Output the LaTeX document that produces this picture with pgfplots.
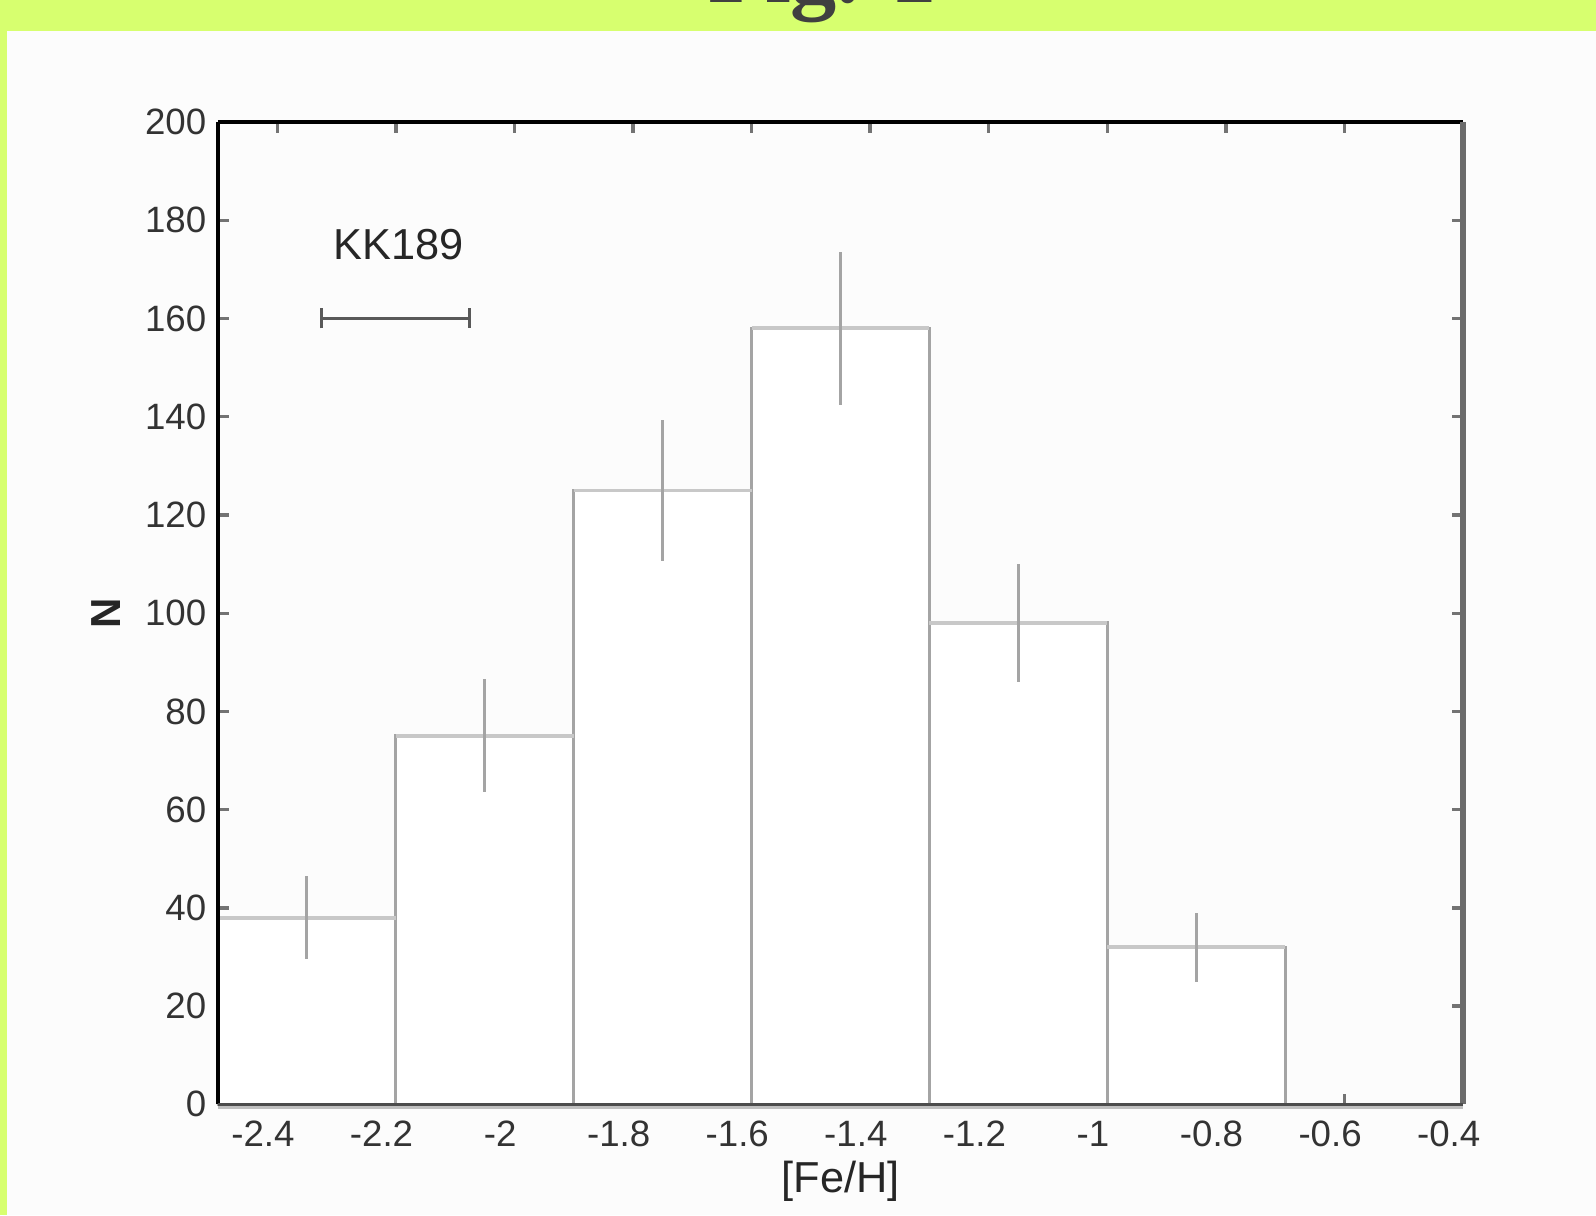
\documentclass[border=0pt]{standalone}
\usepackage{pgfplots}
\pgfplotsset{compat=1.18}
\usepackage{fontspec}
\setmainfont{Liberation Sans}
\newfontfamily\serifbold{Liberation Serif}
\definecolor{bggreen}{HTML}{D7FF6F}
\definecolor{bargray}{HTML}{A4A4A4}
\definecolor{toplight}{HTML}{C8C8C8}
\begin{document}
\begin{tikzpicture}
\useasboundingbox (0,0) rectangle (478.8pt,364.5pt);
\clip (0,0) rectangle (478.8pt,364.5pt);
\fill[white!99!black] (0,0) rectangle (478.8pt,364.5pt);
\fill[bggreen] (0,355.2pt) rectangle (478.8pt,364.5pt);
\fill[bggreen] (0,0) rectangle (2.1pt,364.5pt);
\node[anchor=base west, inner sep=0pt, font=\serifbold\bfseries\fontsize{27.7}{30}\selectfont, text=black!75] at (212.4pt,363.6pt) {Fig. 1};
\begin{axis}[
  at={(65.4pt,33.2pt)}, anchor=south west,
  scale only axis, width=373.5pt, height=294.7pt,
  xmin=-2.5, xmax=-0.4, ymin=0, ymax=200,
  xtick={-2.4,-2.2,-2.0,-1.8,-1.6,-1.4,-1.2,-1.0,-0.8,-0.6,-0.4},
  xticklabels={-2.4,-2.2,-2,-1.8,-1.6,-1.4,-1.2,-1,-0.8,-0.6,-0.4},
  ytick={0,20,40,60,80,100,120,140,160,180,200},
  tick align=inside, major tick length=3.2pt,
  tick style={line width=1pt, color=black!55},
  axis line style={draw=none},
  /pgf/number format/assume math mode=true,
  ticklabel style={font=\fontsize{11}{13}\selectfont, text=black!80},
  xticklabel style={xshift=-4.3pt, yshift=-1.5pt},
  xlabel={[Fe/H]}, ylabel={N},
  xlabel style={font=\fontsize{13}{15}\selectfont, text=black!85, at={(axis description cs:0.5,-0.078)}, anchor=center},
  ylabel style={font=\bfseries\fontsize{12.6}{15}\selectfont, text=black!85, at={(axis description cs:-0.09,0.5)}, anchor=center},
  clip=false,
]
\addplot[ybar interval, fill=white, draw=bargray, line width=0.9pt] coordinates {(-2.5,38) (-2.2,75) (-1.9,125) (-1.6,158) (-1.3,98) (-1.0,32) (-0.7,32)};
\addplot[toplight, line width=1.1pt, no markers] coordinates {(-2.5,38) (-2.2,38)};
\addplot[toplight, line width=1.1pt, no markers] coordinates {(-2.2,75) (-1.9,75)};
\addplot[toplight, line width=1.1pt, no markers] coordinates {(-1.9,125) (-1.6,125)};
\addplot[toplight, line width=1.1pt, no markers] coordinates {(-1.6,158) (-1.3,158)};
\addplot[toplight, line width=1.1pt, no markers] coordinates {(-1.3,98) (-1.0,98)};
\addplot[toplight, line width=1.1pt, no markers] coordinates {(-1.0,32) (-0.7,32)};
\addplot[draw=none, no markers, error bars/.cd, y dir=both, y explicit, error mark=none, error bar style={draw=bargray, line width=0.9pt}] coordinates {
(-2.35,38) +- (0,8.5)
(-2.05,75) +- (0,11.5)
(-1.75,125) +- (0,14.4)
(-1.45,158) +- (0,15.6)
(-1.15,98) +- (0,12.1)
(-0.85,32) +- (0,7)
};
\addplot[draw=none, no markers, error bars/.cd, x dir=both, x explicit, error mark=|, error mark options={draw=black!65, line width=0.9pt, mark size=3pt}, error bar style={draw=black!65, line width=0.9pt}] coordinates {(-2.2,160) +- (0.125,0)};
\draw[black, line width=1pt] (rel axis cs:0,1) -- (rel axis cs:1,1);
\draw[black, line width=1.3pt] (rel axis cs:0,0) -- (rel axis cs:0,1);
\draw[black!58, line width=2pt] (rel axis cs:1,0) -- (rel axis cs:1,1);
\draw[black!70, line width=1pt] (rel axis cs:0,0) -- (rel axis cs:1,0);
\draw[black!25, line width=0.8pt] ([yshift=-1pt]rel axis cs:0,0) -- ([yshift=-1pt]rel axis cs:1,0);
\node[font=\fontsize{13}{15}\selectfont, text=black!85] at (axis cs:-2.195,175) {KK189};
\end{axis}
\end{tikzpicture}
\end{document}
